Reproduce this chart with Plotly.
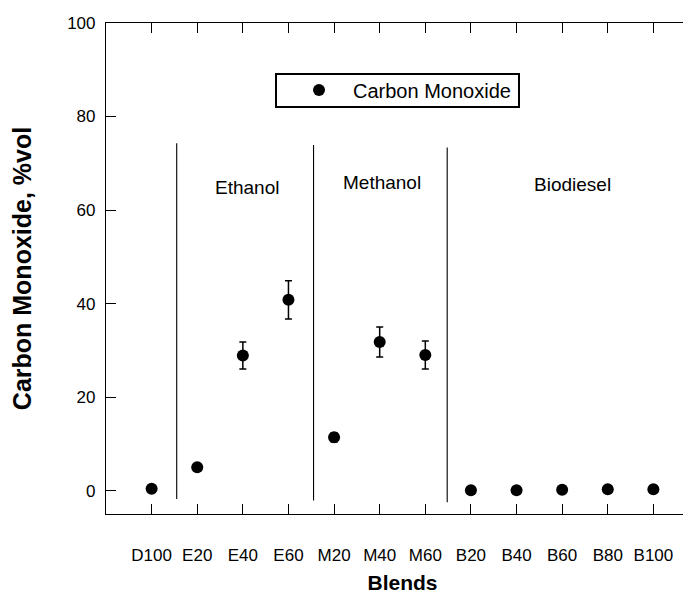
import plotly.graph_objects as go

# ---- data ----
blends = ["D100", "E20", "E40", "E60", "M20", "M40", "M60",
          "B20", "B40", "B60", "B80", "B100"]
co_values = [0.4, 5.0, 28.9, 40.8, 11.4, 31.8, 29.0, 0.1, 0.1, 0.2, 0.3, 0.3]
co_errors = [0.0, 0.0, 2.9, 4.1, 1.0, 3.2, 3.0, 0.0, 0.0, 0.0, 0.0, 0.0]

y_ticks = [0, 20, 40, 60, 80, 100]

group_names = ["Ethanol", "Methanol", "Biodiesel"]
group_label_x = [2.09, 5.06, 9.23]
group_label_y = [64.8, 65.8, 65.4]

divider_x = [0.55, 3.55, 6.48]
divider_top = [74.3, 73.9, 73.4]
divider_bottom = [-1.8, -2.1, -2.5]

FONT = "Liberation Sans, Arial, sans-serif"

# figure geometry (page is offset by the 8px body margin)
W, H = 691, 595
ML, MR, MT, MB = 98, 0, 15, 89
PW, PH = W - ML - MR, H - MT - MB

x_pos = list(range(len(blends)))

fig = go.Figure()
fig.add_trace(go.Scatter(
    x=x_pos, y=co_values,
    mode="markers",
    name="Carbon Monoxide",
    marker=dict(symbol="circle", size=12, color="black"),
    error_y=dict(type="data", array=co_errors, visible=True,
                 color="black", thickness=1.5, width=3.5),
    showlegend=True,
))

shapes = []
for xv, yt, yb in zip(divider_x, divider_top, divider_bottom):
    shapes.append(dict(type="line", xref="x", yref="y", x0=xv, x1=xv,
                       y0=yb, y1=yt, line=dict(color="black", width=1.1)))

# legend frame (layout position in paper coords)
lx0, lx1, ly0, ly1 = 268, 511, 66, 99
shapes.append(dict(type="rect", xref="paper", yref="paper",
                   x0=(lx0 - ML) / PW, x1=(lx1 - ML) / PW,
                   y0=1 - (ly1 - MT) / PH, y1=1 - (ly0 - MT) / PH,
                   line=dict(color="black", width=2), fillcolor="rgba(0,0,0,0)"))

annotations = []
for name, xv, yv in zip(group_names, group_label_x, group_label_y):
    annotations.append(dict(x=xv, y=yv, xref="x", yref="y", text=name,
                            showarrow=False,
                            font=dict(family=FONT, size=19, color="black")))

fig.update_layout(
    width=W, height=H,
    margin=dict(l=ML, r=MR, t=MT, b=MB, autoexpand=False),
    paper_bgcolor="white", plot_bgcolor="white",
    font=dict(family=FONT, color="black"),
    shapes=shapes,
    annotations=annotations,
    xaxis=dict(
        range=[-1, 12],
        tickvals=x_pos, ticktext=blends,
        ticks="inside", ticklen=10, tickwidth=1, tickcolor="black",
        showline=True, linecolor="black", linewidth=1.2,
        mirror="ticks",
        showgrid=False, zeroline=False,
        tickfont=dict(family=FONT, size=17, color="black"),
        ticklabelstandoff=25,
        title=dict(text="<b>Blends</b>",
                   font=dict(family=FONT, size=21, color="black"),
                   standoff=11),
    ),
    yaxis=dict(
        range=[-5, 100],
        tickvals=y_ticks,
        ticks="inside", ticklen=10, tickwidth=1, tickcolor="black",
        showline=True, linecolor="black", linewidth=1.2,
        mirror="ticks",
        showgrid=False, zeroline=False,
        tickfont=dict(family=FONT, size=17, color="black"),
        ticklabelstandoff=6,
        title=dict(text="<b>Carbon Monoxide, %vol</b>",
                   font=dict(family=FONT, size=25, color="black"),
                   standoff=34),
    ),
    legend=dict(
        x=(277 - ML) / PW, y=1 - (82 - MT) / PH,
        xanchor="left", yanchor="middle",
        borderwidth=0, bgcolor="rgba(0,0,0,0)",
        itemwidth=58,
        font=dict(family=FONT, size=20, color="black"),
    ),
    showlegend=True,
)

fig.write_html("out.html")
